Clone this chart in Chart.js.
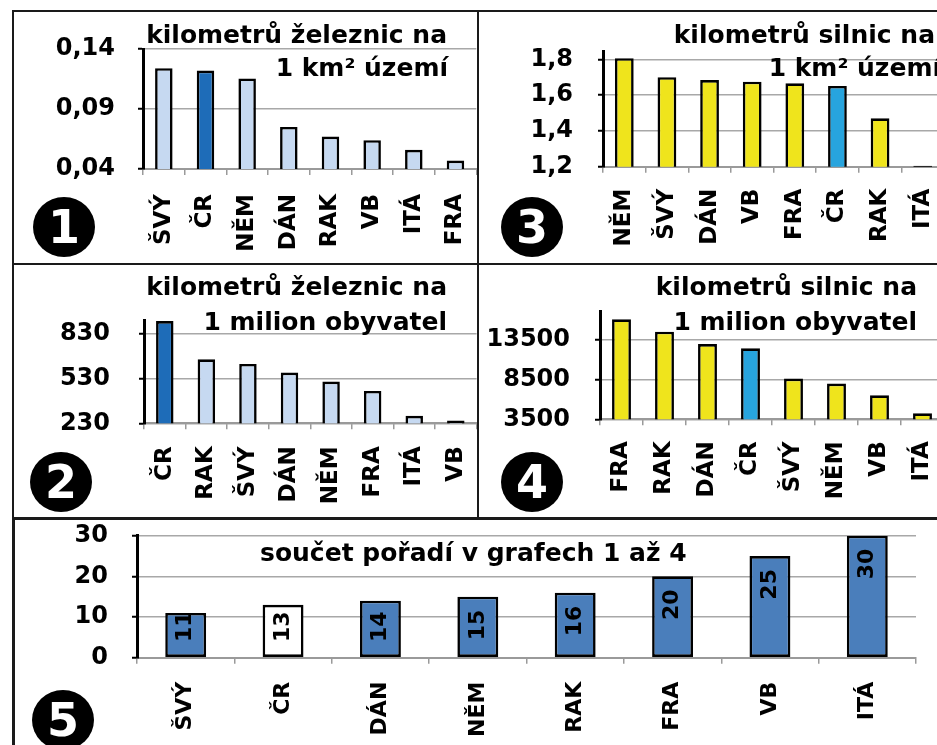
<!DOCTYPE html>
<html><head><meta charset="utf-8">
<script src="https://cdn.jsdelivr.net/npm/chart.js@4/dist/chart.umd.min.js"></script>
<style>
html,body{margin:0;padding:0;background:#fff;}
#root{position:relative;width:937px;height:745px;overflow:hidden;background:#fff;}
.box{position:absolute;overflow:hidden;}
.ln{position:absolute;background:#1a1a1a;}
.num{position:absolute;width:62px;height:60px;border-radius:50%;background:#000;color:#fff;
 font:bold 46px "DejaVu Sans",sans-serif;text-align:center;line-height:60px;}
</style></head><body>
<div id="root">
 <div class="ln" style="left:12px;top:10px;width:925px;height:2px"></div>
 <div class="ln" style="left:12px;top:10px;width:2px;height:507px"></div>
 <div class="ln" style="left:12px;top:517px;width:3px;height:228px"></div>
 <div class="ln" style="left:477px;top:10px;width:2px;height:507px"></div>
 <div class="ln" style="left:12px;top:263px;width:925px;height:2px"></div>
 <div class="ln" style="left:12px;top:517px;width:925px;height:3px"></div>
 <div class="box" id="b1"><canvas id="c1"></canvas></div>
 <div class="box" id="b2"><canvas id="c2"></canvas></div>
 <div class="box" id="b3"><canvas id="c3"></canvas></div>
 <div class="box" id="b4"><canvas id="c4"></canvas></div>
 <div class="box" id="b5"><canvas id="c5"></canvas></div>
 <div class="num" style="left:33px;top:197px">1</div>
 <div class="num" style="left:30px;top:452px">2</div>
 <div class="num" style="left:501px;top:197px">3</div>
 <div class="num" style="left:501px;top:452px">4</div>
 <div class="num" style="left:32px;top:690px">5</div>
</div>
<script>
// ---------- data ----------
const cats1 = ['ŠVÝ','ČR','NĚM','DÁN','RAK','VB','ITÁ','FRA'];
const vals1 = [0.124,0.122,0.1155,0.075,0.067,0.064,0.056,0.047];
const ticks1 = [0.04,0.09,0.14];
const title1 = ['kilometrů železnic na','1 km² území'];

const cats2 = ['ČR','RAK','ŠVÝ','DÁN','NĚM','FRA','ITÁ','VB'];
const vals2 = [917,660,629,571,510,447,280,249];
const ticks2 = [230,530,830];
const title2 = ['kilometrů železnic na','1 milion obyvatel'];

const cats3 = ['NĚM','ŠVÝ','DÁN','VB','FRA','ČR','RAK','ITÁ'];
const vals3 = [1.806,1.70,1.684,1.675,1.666,1.651,1.47,1.205];
const ticks3 = [1.2,1.4,1.6,1.8];
const title3 = ['kilometrů silnic na','1 km² území'];

const cats4 = ['FRA','RAK','DÁN','ČR','ŠVÝ','NĚM','VB','ITÁ'];
const vals4 = [16000,14450,12900,12375,8590,7960,6500,4250];
const ticks4 = [3500,8500,13500];
const title4 = ['kilometrů silnic na','1 milion obyvatel'];

const cats5 = ['ŠVÝ','ČR','DÁN','NĚM','RAK','FRA','VB','ITÁ'];
const vals5 = [11,13,14,15,16,20,25,30];
const ticks5 = [0,10,20,30];
const title5 = ['součet pořadí v grafech 1 až 4'];

// ---------- layout / style ----------
const FONT = '"DejaVu Sans", sans-serif';
const LIGHT = '#c6d9f1', DARK = '#1e6cb8', YEL = '#efe41c', CYAN = '#27a4de', BLUE5 = '#4a7ebb';

const panels = [
 {id:1, cats:cats1, vals:vals1, ticks:ticks1, title:title1, fill:LIGHT, hi:DARK,
  box:{l:14,t:12,w:463,h:251}, cw:463, area:{l:143,r:476.3,t:49,b:169}, min:0.04, max:0.14,
  fmt:v=>v.toFixed(2).replace('.',','), yPad:23, xPad:19, xFont:23, bp:0.42,
  tpos:[{x:447,y:43,a:'right'},{x:448,y:76,a:'right'}]},
 {id:2, cats:cats2, vals:vals2, ticks:ticks2, title:title2, fill:LIGHT, hi:DARK,
  box:{l:14,t:265,w:463,h:252}, cw:463, area:{l:144,r:476.6,t:320,b:423.3}, min:230, max:924,
  fmt:v=>String(v), yPad:29, xPad:17, xFont:23, bp:0.42,
  tpos:[{x:447,y:295,a:'right'},{x:447,y:330,a:'right'}]},
 {id:3, cats:cats3, vals:vals3, ticks:ticks3, title:title3, fill:YEL, hi:CYAN,
  box:{l:479,t:12,w:458,h:251}, cw:466, area:{l:603,r:944,t:51.7,b:166.7}, min:1.2, max:1.8425,
  fmt:v=>v.toFixed(1).replace('.',','), yPad:25, xPad:16, xFont:23, bp:0.44,
  tpos:[{x:935,y:43,a:'right'},{x:941,y:76,a:'right'}]},
 {id:4, cats:cats4, vals:vals4, ticks:ticks4, title:title4, fill:YEL, hi:CYAN,
  box:{l:479,t:265,w:458,h:252}, cw:466, area:{l:600,r:944,t:311.7,b:419.3}, min:3500, max:16950,
  fmt:v=>String(v), yPad:25, xPad:16, xFont:23, bp:0.44,
  tpos:[{x:917,y:295,a:'right'},{x:917,y:330,a:'right'}]},
 {id:5, cats:cats5, vals:vals5, ticks:ticks5, title:title5, fill:BLUE5, hi:'#ffffff',
  box:{l:15,t:520,w:922,h:225}, cw:922, area:{l:137,r:916,t:535.7,b:657.7}, min:0, max:30,
  fmt:v=>String(v), yPad:24, xPad:18, xFont:22, bp:0.42, labels:true,
  tpos:[{x:260,y:561,a:'left'}]}
];

const titlePlugin = {
  id:'panelTitle',
  afterDraw(chart){
    const p = chart.config.options.plugins.panelTitle.p;
    const ctx = chart.ctx;
    ctx.save();
    ctx.font = 'bold 25px ' + FONT;
    ctx.fillStyle = '#000';
    ctx.textBaseline = 'alphabetic';
    p.title.forEach((t,i)=>{
      const pos = p.tpos[i];
      ctx.textAlign = pos.a;
      ctx.fillText(t, pos.x - p.box.l, pos.y - p.box.t);
    });
    ctx.restore();
  }
};

const valuePlugin = {
  id:'barValues',
  afterDatasetsDraw(chart){
    const p = chart.config.options.plugins.panelTitle.p;
    if (!p.labels) return;
    const ctx = chart.ctx;
    const meta = chart.getDatasetMeta(0);
    ctx.save();
    ctx.font = 'bold 22px ' + FONT;
    ctx.fillStyle = '#000';
    ctx.textAlign = 'right';
    ctx.textBaseline = 'middle';
    meta.data.forEach((bar,i)=>{
      const txt = String(p.vals[i]);
      const w = ctx.measureText(txt).width;
      const yEnd = Math.min(bar.y + 13, bar.base - 15 - w);
      ctx.save();
      ctx.translate(bar.x, yEnd);
      ctx.rotate(-Math.PI/2);
      ctx.fillText(txt, 0, 0);
      ctx.restore();
    });
    ctx.restore();
  }
};

panels.forEach(p=>{
  const b = document.getElementById('b'+p.id);
  b.style.left = p.box.l+'px'; b.style.top = p.box.t+'px';
  b.style.width = p.box.w+'px'; b.style.height = p.box.h+'px';
  const cv = document.getElementById('c'+p.id);
  cv.width = p.cw; cv.height = p.box.h;
  cv.style.width = p.cw+'px'; cv.style.height = p.box.h+'px';
  const yW = p.area.l - p.box.l;
  const padTop = p.area.t - p.box.t;
  const padRight = Math.max(0, p.cw - (p.area.r - p.box.l));
  const xH = p.box.h - (p.area.b - p.box.t);
  const colors = p.cats.map(c => c === 'ČR' ? p.hi : p.fill);
  new Chart(cv, {
    type:'bar',
    data:{labels:p.cats, datasets:[{data:p.vals, backgroundColor:colors, borderColor:'#000',
      borderWidth:2.6, borderSkipped:false, barPercentage:p.bp, categoryPercentage:1}]},
    options:{
      responsive:false, animation:false, devicePixelRatio:1,
      layout:{padding:{left:0, top:padTop, right:padRight, bottom:0}},
      plugins:{legend:{display:false}, tooltip:{enabled:false}, panelTitle:{p:p}},
      scales:{
        x:{
          offset:true,
          grid:{offset:true, drawOnChartArea:false, tickLength:6, color:'#9a9a9a', lineWidth:1.5},
          border:{color:'#9a9a9a', width:2},
          ticks:{font:{family:FONT, size:p.xFont, weight:'bold'}, color:'#000',
            minRotation:90, maxRotation:90, padding:p.xPad, autoSkip:false},
          afterFit(s){ s.height = xH; s.paddingLeft = 0; s.paddingRight = 0; }
        },
        y:{
          min:p.min, max:p.max,
          grid:{color:'#a8a8a8', lineWidth:1.5, tickLength:5, tickColor:'#000', tickWidth:2},
          border:{color:'#000', width:3},
          ticks:{font:{family:FONT, size:24, weight:'bold'}, color:'#000', padding:p.yPad,
            callback:(v)=>p.fmt(v)},
          afterBuildTicks(s){ s.ticks = p.ticks.map(v=>({value:v})); },
          afterFit(s){ s.width = yW; s.paddingTop = 0; s.paddingBottom = 0; }
        }
      }
    },
    plugins:[titlePlugin, valuePlugin]
  });
});
</script>
</body></html>
